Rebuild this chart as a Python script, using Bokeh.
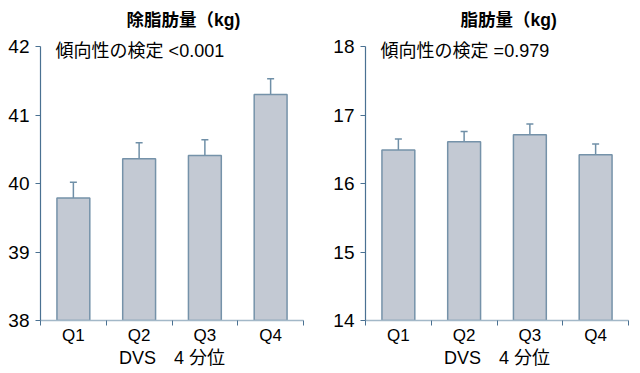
from bokeh.plotting import figure
from bokeh.models import (ColumnDataSource, Whisker, TeeHead, FixedTicker, Label, Range1d)
from bokeh.layouts import row
from bokeh.embed import file_html
from bokeh.resources import INLINE

categories = ["Q1", "Q2", "Q3", "Q4"]
lean_mean = [39.79, 40.36, 40.41, 41.30]
lean_err = [0.23, 0.235, 0.23, 0.23]
fat_mean = [16.49, 16.61, 16.71, 16.42]
fat_err = [0.16, 0.15, 0.16, 0.155]
lean_ticks = [38, 39, 40, 41, 42]
fat_ticks = [14, 15, 16, 17, 18]
xlabel = "DVS　4 分位"
titles = ["除脂肪量（kg)", "脂肪量（kg)"]
notes = ["傾向性の検定 <0.001", "傾向性の検定 =0.979"]

FONT = "'Liberation Sans', 'Noto Sans CJK JP'"
BAR_FILL = "#c3c9d3"
BAR_LINE = "#7592a9"
AX_DARK = "#4a7192"
AX_LIGHT = "#a3b8c8"
PAD = 0.146  # extra room above the top tick (in data units) for the note


def make_panel(means, errs, ticks, title, note, border_left, border_right, title_offset):
    xs = [i + 0.5 for i in range(len(categories))]
    src = ColumnDataSource(dict(
        x=xs, top=means,
        upper=[m + e for m, e in zip(means, errs)],
        lower=[m - e for m, e in zip(means, errs)],
    ))
    p = figure(frame_width=263, frame_height=284,
               x_range=Range1d(0, len(categories)),
               y_range=Range1d(ticks[0], ticks[-1] + PAD),
               output_backend="svg", toolbar_location=None,
               min_border_left=border_left, min_border_right=border_right,
               min_border_top=36, min_border_bottom=44)
    p.outline_line_color = None
    p.grid.grid_line_color = None
    p.background_fill_color = "white"

    p.vbar(x="x", top="top", bottom=ticks[0] - 10, width=0.5, source=src,
           fill_color=BAR_FILL, line_color=BAR_LINE, line_width=1.5)
    w = Whisker(base="x", upper="upper", lower="lower", source=src,
                line_color="#6f8fa7", line_width=1.5,
                upper_head=TeeHead(size=7, line_color="#6f8fa7", line_width=1.5),
                lower_head=TeeHead(size=7, line_color="#6f8fa7", line_width=1.5))
    p.add_layout(w)

    ya = p.yaxis[0]
    ya.ticker = FixedTicker(ticks=ticks)
    ya.bounds = (ticks[0], ticks[-1])
    ya.axis_line_color = AX_DARK
    ya.axis_line_width = 1.2
    ya.major_tick_line_color = AX_DARK
    ya.major_tick_out = 5
    ya.major_tick_in = 0
    ya.minor_tick_line_color = None
    ya.major_label_text_font = FONT
    ya.major_label_text_font_size = "19px"
    ya.major_label_text_color = "black"
    ya.major_label_standoff = 6

    xa = p.xaxis[0]
    xa.ticker = FixedTicker(ticks=xs, minor_ticks=list(range(len(categories) + 1)))
    xa.major_label_overrides = {x: c for x, c in zip(xs, categories)}
    xa.axis_line_color = AX_LIGHT
    xa.axis_line_width = 1.5
    xa.major_tick_line_color = None
    xa.major_tick_out = 0
    xa.major_tick_in = 0
    xa.minor_tick_line_color = AX_DARK
    xa.minor_tick_out = 5
    xa.minor_tick_in = 0
    xa.major_label_text_font = FONT
    xa.major_label_text_font_size = "17px"
    xa.major_label_text_color = "black"
    xa.major_label_standoff = 0
    xa.axis_label = xlabel
    xa.axis_label_text_font = FONT
    xa.axis_label_text_font_size = "18px"
    xa.axis_label_text_font_style = "normal"
    xa.axis_label_text_color = "black"
    xa.axis_label_standoff = 0

    p.title.text = title
    p.title.align = "left"
    p.title.offset = title_offset
    p.title.text_font = FONT
    p.title.text_font_size = "17.5px"
    p.title.text_font_style = "bold"
    p.title.text_color = "black"
    p.title.standoff = 14

    lab = Label(x=0.23, y=ticks[-1] - 0.06, text=note, text_baseline="middle",
                text_font=FONT, text_font_size="18px", text_color="black")
    p.add_layout(lab)
    return p


p1 = make_panel(lean_mean, lean_err, lean_ticks, titles[0], notes[0], 40, 17, 86)
p2 = make_panel(fat_mean, fat_err, fat_ticks, titles[1], notes[1], 45, 4, 95)
p = row(p1, p2)

open("out.html", "w").write(file_html(p, INLINE))
